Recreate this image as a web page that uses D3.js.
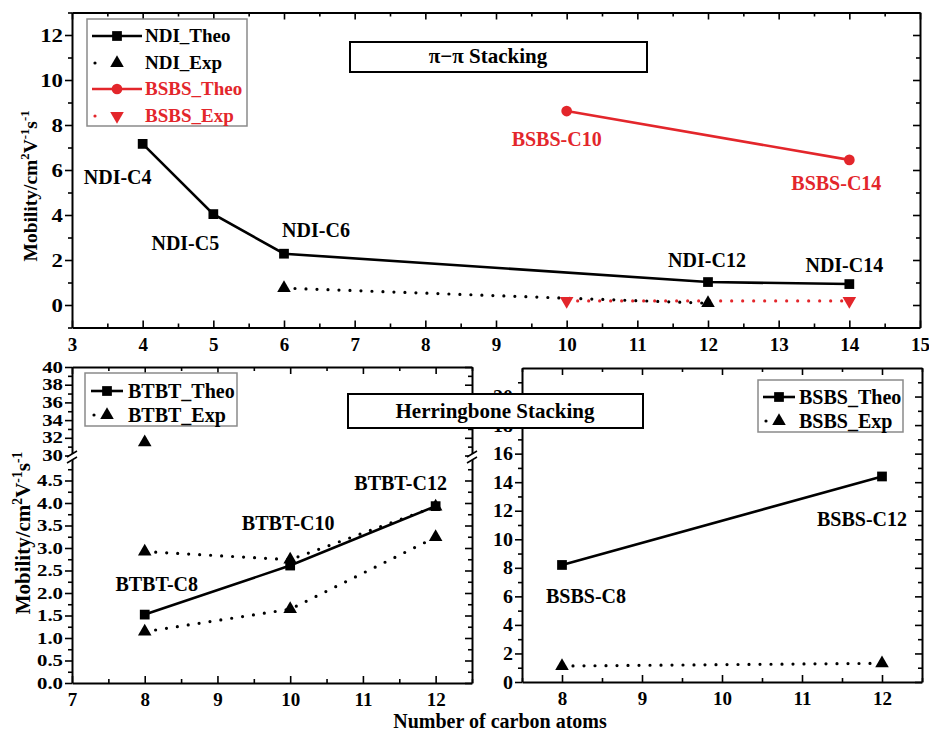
<!DOCTYPE html>
<html>
<head>
<meta charset="utf-8">
<script src="https://cdn.jsdelivr.net/npm/d3@7"></script>
<style>
  body { margin: 0; background: #fff; }
  svg text { font-family: "Liberation Serif", "Times New Roman", serif; font-weight: bold; }
</style>
</head>
<body>
<svg id="chart" width="929" height="731"></svg>
<script>
// ---- top panel: pi-pi stacking ----
const ndiX = [4, 5, 6, 12, 14];
const ndiTheo = [7.16, 4.04, 2.28, 1.02, 0.93];
const ndiExpX = [6, 12];
const ndiExp = [0.75, 0.08];
const bsbsPiX = [10, 14];
const bsbsPiTheo = [8.62, 6.45];
const bsbsPiExp = [0.18, 0.18];
const ndiNames = ["NDI-C4", "NDI-C5", "NDI-C6", "NDI-C12", "NDI-C14"];
const bsbsPiNames = ["BSBS-C10", "BSBS-C14"];
const topXTicks = d3.range(3, 16, 1);
const topYTicks = [0, 2, 4, 6, 8, 10, 12];

// ---- bottom left: BTBT (broken y axis) ----
const btbtX = [8, 10, 12];
const btbtTheo = [1.52, 2.61, 3.93];
const btbtExpA = [2.92, 2.74, 3.92];
const btbtExpB = [1.14, 1.64, 3.24];
const btbtExpHighX = [8];
const btbtExpHigh = [31.5];
const btbtNames = ["BTBT-C8", "BTBT-C10", "BTBT-C12"];
const blXTicks = [7, 8, 9, 10, 11, 12];
const blYTicksLow = d3.range(0, 4.75, 0.5);
const blYTicksHigh = [30, 32, 34, 36, 38, 40];

// ---- bottom right: BSBS herringbone ----
const bsbsX = [8, 12];
const bsbsTheo = [8.2, 14.4];
const bsbsExp = [1.12, 1.31];
const bsbsNames = ["BSBS-C8", "BSBS-C12"];
const brXTicks = [8, 9, 10, 11, 12];
const brYTicks = d3.range(0, 21, 2);

const RED = "#e3262b";
const svg = d3.select("#chart");

const sq = d3.symbol().type(d3.symbolSquare).size(95);
const tri = d3.symbol().type(d3.symbolTriangle).size(80);
const circ = d3.symbol().type(d3.symbolCircle).size(90);

function styleAxis(g, fs) {
  g.select(".domain").attr("stroke", "#000").attr("stroke-width", 2);
  g.selectAll(".tick line").attr("stroke", "#000").attr("stroke-width", 1.6);
  g.selectAll("text").attr("font-size", fs).attr("fill", "#000");
}

function minorTicks(scale, major, lo, hi, step) {
  return d3.range(lo, hi + 1e-9, step).filter(v => !major.some(m => Math.abs(m - v) < 1e-6));
}

function xAxes(x, top, bottom, major, minor, fs) {
  const b = svg.append("g").attr("transform", `translate(0,${bottom})`)
    .call(d3.axisBottom(x).tickValues(major).tickSize(-7).tickSizeOuter(0).tickPadding(10).tickFormat(d3.format("d")));
  styleAxis(b, fs);
  const bm = svg.append("g").attr("transform", `translate(0,${bottom})`)
    .call(d3.axisBottom(x).tickValues(minor).tickSize(-4).tickFormat(""));
  bm.select(".domain").remove(); styleAxis(bm, fs);
  const t = svg.append("g").attr("transform", `translate(0,${top})`)
    .call(d3.axisTop(x).tickValues(major).tickSize(-7).tickSizeOuter(0).tickFormat(""));
  styleAxis(t, fs);
  const tm = svg.append("g").attr("transform", `translate(0,${top})`)
    .call(d3.axisTop(x).tickValues(minor).tickSize(-4).tickFormat(""));
  tm.select(".domain").remove(); styleAxis(tm, fs);
}

function yAxes(y, left, right, major, minor, fmt, fs, sx) {
  const l = svg.append("g").attr("transform", `translate(${left},0)`)
    .call(d3.axisLeft(y).tickValues(major).tickSize(7).tickSizeOuter(0).tickPadding(2).tickFormat(fmt));
  styleAxis(l, fs);
  if (sx) {
    l.selectAll("text")
      .style("transform-box", "fill-box")
      .style("transform-origin", "100% 50%")
      .style("transform", `scaleX(${sx})`);
  }
  const lm = svg.append("g").attr("transform", `translate(${left},0)`)
    .call(d3.axisLeft(y).tickValues(minor).tickSize(4).tickFormat(""));
  lm.select(".domain").remove(); styleAxis(lm, fs);
  const r = svg.append("g").attr("transform", `translate(${right},0)`)
    .call(d3.axisRight(y).tickValues(major).tickSize(-7).tickSizeOuter(0).tickFormat(""));
  styleAxis(r, fs);
  const rm = svg.append("g").attr("transform", `translate(${right},0)`)
    .call(d3.axisRight(y).tickValues(minor).tickSize(-4).tickFormat(""));
  rm.select(".domain").remove(); styleAxis(rm, fs);
}

function line(x, y, xs, ys, color, dotted) {
  const pts = xs.map((d, i) => [d, ys[i]]);
  svg.append("path")
    .datum(pts)
    .attr("fill", "none")
    .attr("stroke", color)
    .attr("stroke-width", dotted ? 3.2 : 2.6)
    .attr("stroke-linecap", dotted ? "round" : "butt")
    .attr("stroke-dasharray", dotted ? "0,11" : null)
    .attr("d", d3.line().x(d => x(d[0])).y(d => y(d[1])));
}

function marks(x, y, xs, ys, sym, color, rot) {
  svg.selectAll(null)
    .data(xs.map((d, i) => [d, ys[i]]))
    .enter().append("path")
    .attr("d", sym)
    .attr("fill", color)
    .attr("transform", d => `translate(${x(d[0])},${y(d[1])})` + (rot ? " rotate(180)" : ""));
}

function labels(x, y, xs, ys, names, offs, color) {
  svg.selectAll(null)
    .data(names)
    .enter().append("text")
    .attr("x", (d, i) => x(xs[i]) + offs[i][0])
    .attr("y", (d, i) => y(ys[i]) + offs[i][1])
    .attr("text-anchor", "middle")
    .attr("font-size", 20)
    .attr("fill", color)
    .text(d => d);
}

function yTitle(cx, cy, fs) {
  const t = svg.append("text")
    .attr("transform", `translate(${cx},${cy}) rotate(-90)`)
    .attr("text-anchor", "middle")
    .attr("font-size", fs);
  t.append("tspan").text("Mobility/cm");
  t.append("tspan").attr("dy", -fs * 0.4).attr("font-size", fs * 0.65).text("2");
  t.append("tspan").attr("dy", fs * 0.4).text("V");
  t.append("tspan").attr("dy", -fs * 0.4).attr("font-size", fs * 0.65).text("-1");
  t.append("tspan").attr("dy", fs * 0.4).text("s");
  t.append("tspan").attr("dy", -fs * 0.4).attr("font-size", fs * 0.65).text("-1");
}

function legend(box, rows, x0, x1, tx, fs) {
  svg.append("rect")
    .attr("x", box[0]).attr("y", box[1]).attr("width", box[2] - box[0]).attr("height", box[3] - box[1])
    .attr("fill", "#fff").attr("stroke", "#8a8a8a").attr("stroke-width", 1.5);
  rows.forEach(r => {
    svg.append("line")
      .attr("x1", r.dotted ? x0 + 3 : x0).attr("x2", r.dotted ? x1 - 3 : x1)
      .attr("y1", r.y).attr("y2", r.y)
      .attr("stroke", r.color)
      .attr("stroke-width", r.dotted ? 3.2 : 2.6)
      .attr("stroke-linecap", r.dotted ? "round" : "butt")
      .attr("stroke-dasharray", r.dotted ? `0,${(x1 - x0 - 6) / 2}` : null);
    svg.append("path").attr("d", r.sym).attr("fill", r.color)
      .attr("transform", `translate(${(x0 + x1) / 2},${r.y})` + (r.rot ? " rotate(180)" : ""));
    svg.append("text").attr("x", tx).attr("y", r.y + fs * 0.34)
      .attr("font-size", fs).attr("fill", r.color).text(r.label);
  });
}

function titleBox(x0, y0, x1, y1, text, tx, ty) {
  svg.append("rect").attr("x", x0).attr("y", y0).attr("width", x1 - x0).attr("height", y1 - y0)
    .attr("fill", "#fff").attr("stroke", "#000").attr("stroke-width", 2);
  svg.append("text").attr("x", tx).attr("y", ty).attr("text-anchor", "middle")
    .attr("font-size", 21).text(text);
}

// ================= top panel =================
const xT = d3.scaleLinear().domain([3, 15]).range([72, 920]);
const yT = d3.scaleLinear().domain([-1, 13]).range([327.5, 12.5]);
xAxes(xT, 12.5, 327.5, topXTicks, minorTicks(xT, topXTicks, 3.5, 14.5, 0.5), 19);
yAxes(yT, 72, 920, topYTicks, [-1, 1, 3, 5, 7, 9, 11, 13], d3.format("d"), 19, 1.2);

line(xT, yT, ndiX, ndiTheo, "#000", false);
line(xT, yT, ndiExpX, ndiExp, "#000", true);
line(xT, yT, bsbsPiX, bsbsPiTheo, RED, false);
line(xT, yT, bsbsPiX, bsbsPiExp, RED, true);
marks(xT, yT, ndiX, ndiTheo, sq, "#000");
marks(xT, yT, ndiExpX, ndiExp, tri, "#000");
marks(xT, yT, bsbsPiX, bsbsPiTheo, circ, RED);
marks(xT, yT, bsbsPiX, bsbsPiExp, tri, RED, true);

labels(xT, yT, ndiX, ndiTheo, ndiNames, [[-25, 40], [-28, 36], [32, -17], [-1, -15], [-5, -12]], "#000");
labels(xT, yT, bsbsPiX, bsbsPiTheo, bsbsPiNames, [[-10, 35], [-13, 30]], RED);

yTitle(37, 186, 19.5);

legend([87, 19, 247, 126], [
  { label: "NDI_Theo", color: "#000", sym: sq, y: 36 },
  { label: "NDI_Exp", color: "#000", sym: tri, y: 63, dotted: true },
  { label: "BSBS_Theo", color: RED, sym: circ, y: 89 },
  { label: "BSBS_Exp", color: RED, sym: tri, y: 116, dotted: true, rot: true }
], 92, 142, 145, 19);

titleBox(350, 42, 647, 72, "\u03c0\u2212\u03c0 Stacking", 488, 63);

// ================= bottom left: BTBT =================
const xBL = d3.scaleLinear().domain([7, 12.5]).range([72, 472]);
const yLo = d3.scaleLinear().domain([0, 5]).range([683, 458]);
const yHi = d3.scaleLinear().domain([30, 40]).range([455.5, 367]);
const yBL = v => (v >= 30 ? yHi(v) : yLo(v));

xAxes(xBL, 367, 683, blXTicks, minorTicks(xBL, blXTicks, 7.5, 12.5, 0.5), 19);
yAxes(yLo, 72, 472, blYTicksLow, minorTicks(yLo, blYTicksLow, 0.25, 4.75, 0.25), d3.format(".1f"), 16, 1.3);
yAxes(yHi, 72, 472, blYTicksHigh, [31, 33, 35, 37, 39], d3.format("d"), 16, 1.3);

// axis break marks
[72, 472].forEach(ax => {
  svg.append("rect").attr("x", ax - 3).attr("y", 454).attr("width", 6).attr("height", 6).attr("fill", "#fff");
  [454, 460].forEach(by => {
    svg.append("line").attr("x1", ax - 5).attr("y1", by + 3).attr("x2", ax + 5).attr("y2", by - 3)
      .attr("stroke", "#000").attr("stroke-width", 1.5);
  });
});

line(xBL, yBL, btbtX, btbtExpA, "#000", true);
line(xBL, yBL, btbtX, btbtExpB, "#000", true);
line(xBL, yBL, btbtX, btbtTheo, "#000", false);
marks(xBL, yBL, btbtX, btbtExpA, tri, "#000");
marks(xBL, yBL, btbtX, btbtExpB, tri, "#000");
marks(xBL, yBL, btbtExpHighX, btbtExpHigh, tri, "#000");
marks(xBL, yBL, btbtX, btbtTheo, sq, "#000");

labels(xBL, yBL, btbtX, btbtTheo, btbtNames, [[12, -24], [-2, -36], [-35, -16]], "#000");
yTitle(30, 533, 21);

legend([85, 373, 237, 426], [
  { label: "BTBT_Theo", color: "#000", sym: sq, y: 391 },
  { label: "BTBT_Exp", color: "#000", sym: tri, y: 415, dotted: true }
], 91, 123, 128, 20);

// ================= bottom right: BSBS =================
const xBR = d3.scaleLinear().domain([7.5, 12.5]).range([522, 922]);
const yBR = d3.scaleLinear().domain([0, 22]).range([682, 368]);
xAxes(xBR, 368, 682, brXTicks, minorTicks(xBR, brXTicks, 7.5, 12.5, 0.5), 19);
yAxes(yBR, 522, 922, brYTicks, d3.range(1, 22, 2), d3.format("d"), 19, 1.05);

line(xBR, yBR, bsbsX, bsbsExp, "#000", true);
line(xBR, yBR, bsbsX, bsbsTheo, "#000", false);
marks(xBR, yBR, bsbsX, bsbsExp, tri, "#000");
marks(xBR, yBR, bsbsX, bsbsTheo, sq, "#000");
labels(xBR, yBR, bsbsX, bsbsTheo, bsbsNames, [[24, 38], [-20, 50]], "#000");

legend([758, 380, 903, 432], [
  { label: "BSBS_Theo", color: "#000", sym: sq, y: 397 },
  { label: "BSBS_Exp", color: "#000", sym: tri, y: 421, dotted: true }
], 763, 795, 799, 20);

titleBox(348, 394, 643, 428, "Herringbone Stacking", 495, 418);

svg.append("text").attr("x", 500).attr("y", 728).attr("text-anchor", "middle")
  .attr("font-size", 20).text("Number of carbon atoms");
</script>
</body>
</html>
